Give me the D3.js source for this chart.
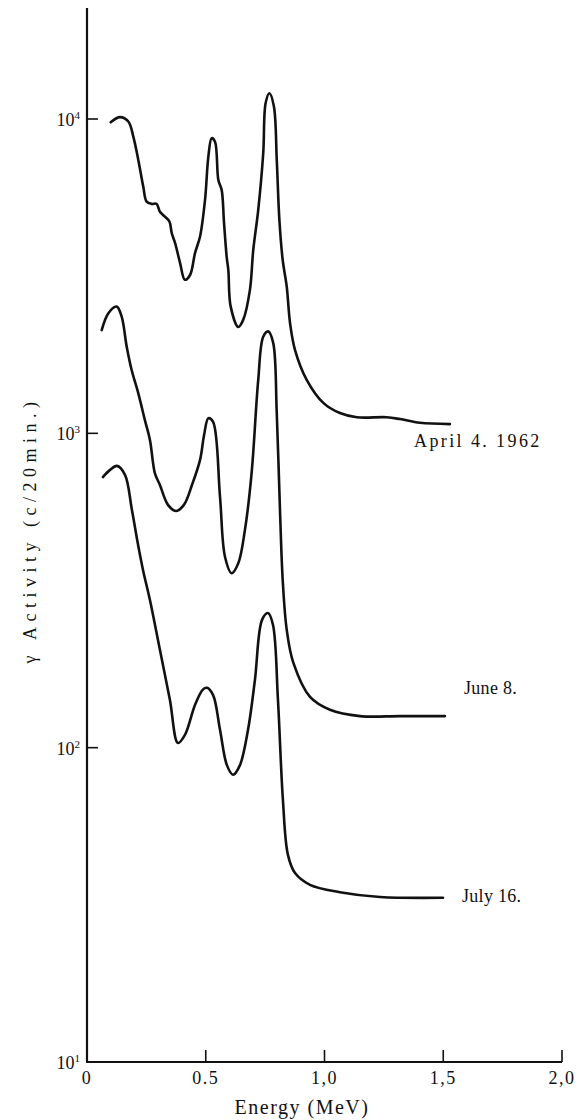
<!DOCTYPE html>
<html>
<head>
<meta charset="utf-8">
<script src="https://cdn.jsdelivr.net/npm/d3@7"></script>
<style>
  html, body { margin: 0; padding: 0; background: #fff; }
  svg { display: block; }
  text { font-family: "Liberation Serif", "DejaVu Serif", serif; fill: #111; }
</style>
</head>
<body>
<script>
// Gamma-ray spectra of fallout samples, counts per 20 min on a log scale
const xTicks = [0, 0.5, 1.0, 1.5, 2.0];
const xTickLabels = ["0", "0.5", "1,0", "1,5", "2,0"];
const yTicks = [10, 100, 1000, 10000];
const yTickExp = ["1", "2", "3", "4"];

const seriesNames = ["April 4. 1962", "June 8.", "July 16."];

// energy (MeV) and activity (c/20min.) pairs for each spectrum
const aprilE = [0.100, 0.139, 0.174, 0.195, 0.216, 0.237, 0.251, 0.272, 0.293, 0.307, 0.328, 0.347, 0.357, 0.371, 0.392, 0.412, 0.434, 0.455, 0.476, 0.497, 0.511, 0.525, 0.539, 0.553, 0.567, 0.577, 0.588, 0.595, 0.605, 0.637, 0.658, 0.686, 0.700, 0.721, 0.742, 0.752, 0.768, 0.787, 0.799, 0.810, 0.824, 0.841, 0.855, 0.876, 0.925, 0.995, 1.065, 1.136, 1.262, 1.318, 1.402, 1.528];
const aprilC = [9770, 10140, 9820, 8790, 7410, 6090, 5460, 5370, 5370, 5070, 4890, 4720, 4330, 4030, 3480, 3080, 3190, 3750, 4230, 5530, 7590, 8690, 8470, 6400, 5950, 4670, 3650, 3310, 2530, 2180, 2300, 2860, 3830, 5140, 7780, 11220, 12080, 10960, 7410, 4780, 3560, 2930, 2240, 1840, 1480, 1250, 1160, 1125, 1125, 1110, 1080, 1070];

const juneE = [0.062, 0.090, 0.125, 0.146, 0.167, 0.188, 0.216, 0.244, 0.265, 0.286, 0.307, 0.341, 0.375, 0.408, 0.442, 0.476, 0.493, 0.511, 0.531, 0.560, 0.581, 0.609, 0.637, 0.665, 0.693, 0.721, 0.742, 0.763, 0.784, 0.799, 0.813, 0.824, 0.841, 0.869, 0.939, 1.023, 1.149, 1.318, 1.507];
const juneC = [2130, 2410, 2530, 2350, 1890, 1590, 1340, 1100, 953, 746, 685, 592, 566, 592, 685, 823, 988, 1117, 1087, 629, 405, 359, 386, 493, 746, 1480, 2030, 2110, 1940, 1160, 557, 342, 237, 186, 145, 132, 126, 126, 126];

const julyE = [0.067, 0.097, 0.126, 0.160, 0.189, 0.215, 0.236, 0.265, 0.307, 0.349, 0.383, 0.413, 0.455, 0.488, 0.505, 0.531, 0.560, 0.589, 0.615, 0.644, 0.678, 0.707, 0.737, 0.762, 0.783, 0.804, 0.825, 0.846, 0.876, 0.939, 1.065, 1.234, 1.499];
const julyC = [726, 765, 788, 738, 571, 442, 367, 295, 205, 142, 103.5, 110, 137, 153, 155, 147, 114, 88, 82, 88, 114, 164, 255, 268, 246, 142, 68, 45.6, 39.9, 36.6, 34.7, 33.5, 33.3];

const width = 579, height = 1120;
const svg = d3.select("body").append("svg")
  .attr("width", width).attr("height", height);

const x = d3.scaleLinear().domain([0, 2.0]).range([87, 562]);
const y = d3.scaleLog().domain([10, 10000]).range([1062, 119]);
const yTop = y.invert(8);

const ink = "#111";

// left axis line
svg.append("line")
  .attr("x1", x(0)).attr("x2", x(0))
  .attr("y1", y(yTop)).attr("y2", y(10))
  .attr("stroke", ink).attr("stroke-width", 2.2);

// bottom axis line
svg.append("line")
  .attr("x1", x(0) - 1).attr("x2", x(2.0))
  .attr("y1", y(10)).attr("y2", y(10))
  .attr("stroke", ink).attr("stroke-width", 2.2);

// x ticks (pointing up into the plot)
const xg = svg.append("g");
xg.selectAll("line").data(xTicks.slice(1)).join("line")
  .attr("x1", d => x(d)).attr("x2", d => x(d))
  .attr("y1", y(10)).attr("y2", y(10) - 12)
  .attr("stroke", ink).attr("stroke-width", 1.6);
xg.selectAll("text").data(xTicks).join("text")
  .attr("x", d => x(d)).attr("y", 1084)
  .attr("text-anchor", "middle")
  .attr("font-size", 18)
  .attr("letter-spacing", 1.5)
  .text((d, i) => xTickLabels[i]);

svg.append("text")
  .attr("x", 302).attr("y", 1114)
  .attr("text-anchor", "middle")
  .attr("font-size", 20)
  .attr("letter-spacing", 1.5)
  .text("Energy (MeV)");

// y ticks (pointing right into the plot)
const yg = svg.append("g");
yg.selectAll("line").data(yTicks.slice(1)).join("line")
  .attr("x1", x(0)).attr("x2", x(0) + 11)
  .attr("y1", d => y(d)).attr("y2", d => y(d))
  .attr("stroke", ink).attr("stroke-width", 1.6);
const yl = yg.selectAll("text").data(yTicks).join("text")
  .attr("x", 80).attr("y", d => y(d) + 7)
  .attr("text-anchor", "end")
  .attr("font-size", 18);
yl.append("tspan").text("10");
yl.append("tspan").attr("dy", -7).attr("font-size", 11).text((d, i) => yTickExp[i]);

// y axis title
svg.append("text")
  .attr("transform", "translate(36,530) rotate(-90)")
  .attr("text-anchor", "middle")
  .attr("font-size", 18)
  .attr("letter-spacing", 5.5)
  .text("γ Activity (c/20min.)");

// spectra
const line = d3.line()
  .x(d => x(d[0])).y(d => y(d[1]))
  .curve(d3.curveCatmullRom.alpha(0.5));

const series = [
  d3.zip(aprilE, aprilC),
  d3.zip(juneE, juneC),
  d3.zip(julyE, julyC)
];

svg.append("g").selectAll("path").data(series).join("path")
  .attr("d", line)
  .attr("fill", "none")
  .attr("stroke", ink)
  .attr("stroke-width", 2.6)
  .attr("stroke-linejoin", "round")
  .attr("stroke-linecap", "round");

// series labels next to each tail
const labelPos = [[414, 447], [464, 694], [462, 902]];
svg.append("g").selectAll("text").data(seriesNames).join("text")
  .attr("x", (d, i) => labelPos[i][0])
  .attr("y", (d, i) => labelPos[i][1])
  .attr("font-size", 18)
  .attr("letter-spacing", (d, i) => i === 0 ? 2.4 : 0.3)
  .text(d => d);
</script>
</body>
</html>
